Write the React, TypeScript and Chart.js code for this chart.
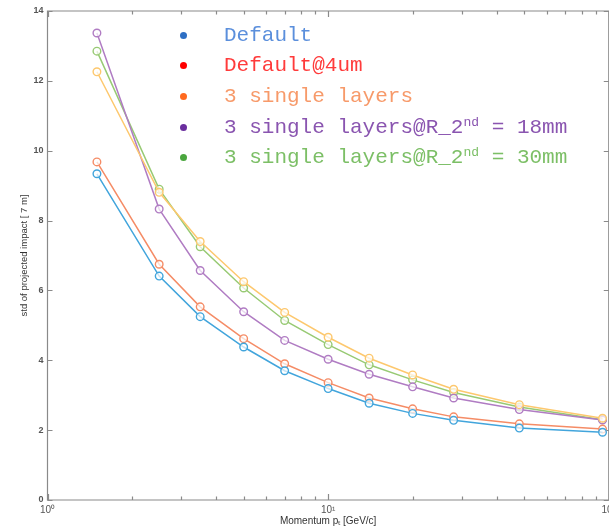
import React, { useEffect, useRef } from "react";
import { Chart, registerables } from "chart.js";

Chart.register(...registerables);

const momentum = [1.5, 2.5, 3.5, 5, 7, 10, 14, 20, 28, 48, 95];
const defaultVals = [9.34, 6.41, 5.25, 4.38, 3.70, 3.19, 2.77, 2.48, 2.28, 2.06, 1.94];
const default4umVals = [9.68, 6.75, 5.53, 4.62, 3.90, 3.36, 2.92, 2.61, 2.38, 2.18, 2.03];
const singleLayersVals = [12.26, 8.81, 7.40, 6.25, 5.37, 4.66, 4.06, 3.58, 3.17, 2.73, 2.34];
const r18Vals = [13.37, 8.33, 6.57, 5.39, 4.57, 4.03, 3.60, 3.24, 2.92, 2.59, 2.29];
const r30Vals = [12.85, 8.90, 7.25, 6.07, 5.14, 4.45, 3.87, 3.44, 3.08, 2.66, 2.30];

const seriesNames = ["Default", "Default@4um", "3 single layers", "3 single layers@R_2nd = 18mm", "3 single layers@R_2nd = 30mm"];
const seriesValues = [defaultVals, default4umVals, singleLayersVals, r18Vals, r30Vals];
const lineColors = ["#42a5dc", "#f58c66", "#fdc86e", "#b07cc3", "#98ca74"];
const legendDotColors = ["#2e6fc4", "#ff0000", "#ff6a1f", "#6a2e9e", "#4aa63e"];
const legendTextColors = ["#5b8fdc", "#ff3b3b", "#f79a6a", "#8a55b0", "#7cbf66"];

const xMajorTicks = [1, 10, 100];
const xMinorTicks = [2, 3, 4, 5, 6, 7, 8, 9, 20, 30, 40, 50, 60, 70, 80, 90];
const xTickLabels = ["10\u2070", "10\u00b9", "10\u00b2"];
const yTicks = [0, 2, 4, 6, 8, 10, 12, 14];

const AXIS_COLOR = "#8a8a8a";

const boxPlugin = {
  id: "matlabBox",
  beforeDatasetsDraw(chart: any) {
    const { ctx, chartArea, scales } = chart;
    const { left, right, top, bottom } = chartArea;
    ctx.save();
    ctx.strokeStyle = AXIS_COLOR;
    ctx.lineWidth = 1.2;
    ctx.beginPath();
    ctx.rect(left, top, right - left, bottom - top);
    ctx.stroke();
    ctx.beginPath();
    yTicks.forEach((v) => {
      const y = Math.round(scales.y.getPixelForValue(v)) + 0.5;
      ctx.moveTo(left, y);
      ctx.lineTo(left + 5, y);
      ctx.moveTo(right, y);
      ctx.lineTo(right - 5, y);
    });
    xMajorTicks.forEach((v) => {
      const x = Math.round(scales.x.getPixelForValue(v)) + 0.5;
      ctx.moveTo(x, bottom);
      ctx.lineTo(x, bottom - 6);
      ctx.moveTo(x, top);
      ctx.lineTo(x, top + 6);
    });
    xMinorTicks.forEach((v) => {
      const x = Math.round(scales.x.getPixelForValue(v)) + 0.5;
      ctx.moveTo(x, bottom);
      ctx.lineTo(x, bottom - 3.5);
      ctx.moveTo(x, top);
      ctx.lineTo(x, top + 3.5);
    });
    ctx.stroke();
    ctx.restore();
  },
};

function LegendLabel({ text }: { text: string }) {
  const m = text.match(/^(.*R_2)nd(.*)$/);
  if (!m) return <>{text}</>;
  return (
    <>
      {m[1]}
      <span style={{ fontSize: "0.62em", position: "relative", top: "-0.55em", lineHeight: 0 }}>nd</span>
      {m[2]}
    </>
  );
}

export default function App() {
  const canvasRef = useRef<HTMLCanvasElement | null>(null);

  useEffect(() => {
    const canvas = canvasRef.current;
    if (!canvas) return;
    const chart = new Chart(canvas, {
      type: "line",
      data: {
        datasets: seriesNames.map((name, i) => ({
          label: name,
          data: momentum.map((p, j) => ({ x: p, y: seriesValues[i][j] })),
          borderColor: lineColors[i],
          backgroundColor: "rgba(255,255,255,0.7)",
          borderWidth: 1.5,
          pointRadius: 3.8,
          pointBorderWidth: 1.4,
          pointStyle: "circle",
          tension: 0,
        })),
      },
      options: {
        responsive: false,
        animation: false,
        events: [],
        layout: { padding: { top: 11, right: 8, left: 0, bottom: 0 } },
        plugins: { legend: { display: false }, tooltip: { enabled: false } },
        scales: {
          x: {
            type: "logarithmic",
            min: 1,
            max: 100,
            grid: { display: false, drawTicks: false },
            border: { display: false },
            afterBuildTicks: (scale: any) => {
              scale.ticks = xMajorTicks.map((v) => ({ value: v }));
            },
            afterFit: (scale: any) => {
              scale.height = 29;
            },
            ticks: {
              autoSkip: false,
              maxRotation: 0,
              padding: 4,
              color: "#555",
              font: { family: "Liberation Sans, Arial, sans-serif", size: 10 },
              callback: (value: any) => {
                const idx = xMajorTicks.indexOf(Number(value));
                return idx >= 0 ? xTickLabels[idx] : "";
              },
            },
            title: {
              display: true,
              text: "Momentum p\u209c [GeV/c]",
              color: "#333",
              font: { family: "Liberation Sans, Arial, sans-serif", size: 10 },
              padding: { top: 0, bottom: 2 },
            },
          },
          y: {
            type: "linear",
            min: 0,
            max: 14,
            grid: { display: false, drawTicks: false },
            border: { display: false },
            afterBuildTicks: (scale: any) => {
              scale.ticks = yTicks.map((v) => ({ value: v }));
            },
            afterFit: (scale: any) => {
              scale.width = 47.5;
            },
            ticks: {
              padding: 4,
              color: "#555",
              font: { family: "Liberation Sans, Arial, sans-serif", size: 9, weight: "bold" },
            },
            title: {
              display: true,
              text: "std of projected impact [ 7 m]",
              color: "#333",
              font: { family: "Liberation Sans, Arial, sans-serif", size: 9.5 },
              padding: { top: 19, bottom: 0 },
            },
          },
        },
      },
      plugins: [boxPlugin],
    } as any);
    return () => chart.destroy();
  }, []);

  const rowY = [35, 65, 96, 127, 157];

  return (
    <div style={{ position: "fixed", left: 0, top: 0, width: 609, height: 529, overflow: "hidden", background: "#fff" }}>
      <canvas ref={canvasRef} width={620} height={529} style={{ position: "absolute", left: 0, top: 0, width: 620, height: 529 }} />
      {seriesNames.map((name, i) => (
        <React.Fragment key={name}>
          <div
            style={{
              position: "absolute",
              left: 183 - 3.5,
              top: rowY[i] - 3.5,
              width: 7,
              height: 7,
              borderRadius: "50%",
              background: legendDotColors[i],
            }}
          />
          <div
            style={{
              position: "absolute",
              left: 224,
              top: rowY[i] - 14,
              height: 30,
              lineHeight: "30px",
              whiteSpace: "nowrap",
              fontFamily: "'Liberation Mono', 'Courier New', 'Nimbus Mono PS', 'DejaVu Serif', serif",
              fontSize: 21,
              color: legendTextColors[i],
            }}
          >
            <LegendLabel text={name} />
          </div>
        </React.Fragment>
      ))}
    </div>
  );
}
